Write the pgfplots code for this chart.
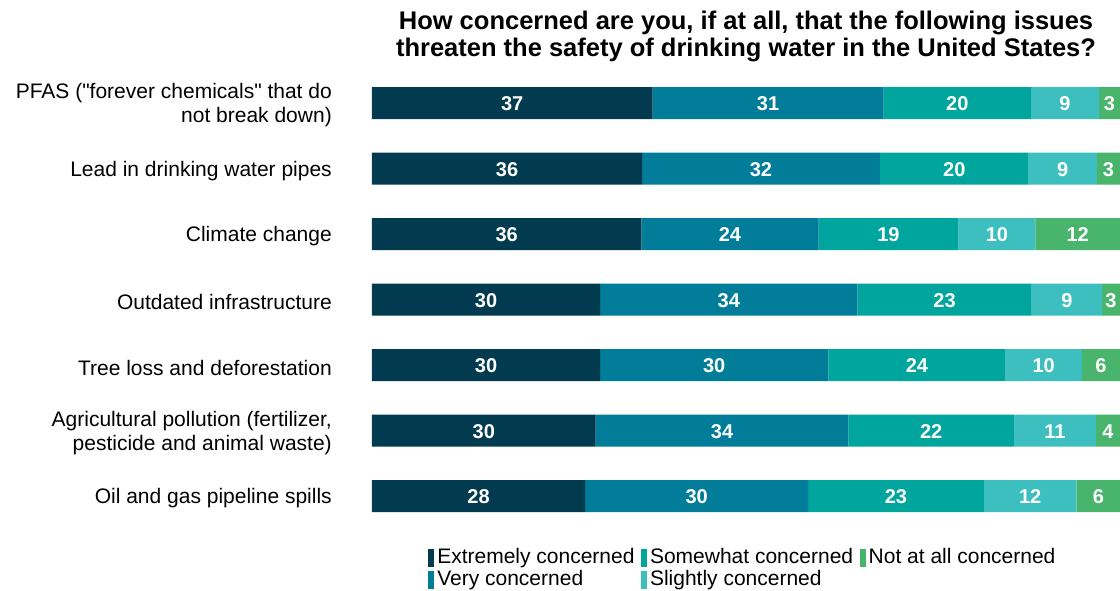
\documentclass[border=0pt]{standalone}
\usepackage{pgfplots}
\pgfplotsset{compat=1.18}
\usepackage{fontspec}
\setmainfont{Liberation Sans}
\newcommand\dq{\XeTeXglyph\XeTeXcharglyph"22\relax}
\definecolor{cExt}{HTML}{023B4F}
\definecolor{cVery}{HTML}{017C99}
\definecolor{cSome}{HTML}{00A59E}
\definecolor{cSli}{HTML}{3EBFBF}
\definecolor{cNot}{HTML}{48B46C}
\begin{document}
\begin{tikzpicture}[x=1pt,y=1pt]
\useasboundingbox (0,0) rectangle (1120,590);
\begin{axis}[
  at={(372pt,61.25pt)}, anchor=south west,
  width=748pt, height=458.5pt, scale only axis,
  xbar stacked, bar width=32pt,
  xmin=0, xmax=100, ymin=-0.5, ymax=6.5, y dir=reverse,
  axis lines=left, axis line style={draw=none},
  xtick=\empty, ytick={0,...,6}, major tick length=0pt,
  yticklabels={{PFAS (\dq forever chemicals\dq{} that do\\not break down)},
    {Lead in drinking water pipes},
    {Climate change},
    {Outdated infrastructure},
    {Tree loss and deforestation},
    {Agricultural pollution (fertilizer,\\pesticide and animal waste)},
    {Oil and gas pipeline spills}},
  yticklabel style={font=\fontsize{21}{24}\selectfont, align=right, inner sep=0pt, xshift=-40pt, yshift=-2.5pt},
  title={How concerned are you, if at all, that the following issues\\threaten the safety of drinking water in the United States?},
  title style={font=\bfseries\fontsize{25.5}{27}\selectfont, align=center, at={(0.5,1)}, anchor=south, inner sep=0pt, yshift=2pt},
  nodes near coords,
  point meta=explicit symbolic,
  nodes near coords style={font=\bfseries\fontsize{20}{20}\selectfont, text=white, anchor=center, yshift=-1pt},
  legend columns=3,
  legend image code/.code={\fill[#1] (0pt,-9pt) rectangle (6pt,9pt);},
  legend style={at={(0.075,-0.043)}, anchor=north west, draw=none, fill=none,
    font=\fontsize{21}{22}\selectfont, inner sep=0pt, row sep=3pt,
    nodes={inner xsep=3pt, inner ysep=0pt, text height=15pt, text depth=4pt},
    /tikz/every even column/.append style={column sep=3.5pt}},
  legend cell align=left,
]
\addlegendimage{fill=cExt, draw=none}\addlegendentry{Extremely concerned}
\addlegendimage{fill=cSome, draw=none}\addlegendentry{Somewhat concerned}
\addlegendimage{fill=cNot, draw=none}\addlegendentry{Not at all concerned}
\addlegendimage{fill=cVery, draw=none}\addlegendentry{Very concerned}
\addlegendimage{fill=cSli, draw=none}\addlegendentry{Slightly concerned}
\addplot[fill=cExt, draw=none] coordinates {(37.5,0)[37] (36.1,1)[36] (36.0,2)[36] (30.5,3)[30] (30.5,4)[30] (29.9,5)[30] (28.5,6)[28]};
\addplot[fill=cVery, draw=none] coordinates {(30.9,0)[31] (31.8,1)[32] (23.7,2)[24] (34.4,3)[34] (30.5,4)[30] (33.8,5)[34] (29.8,6)[30]};
\addplot[fill=cSome, draw=none] coordinates {(19.7,0)[20] (19.9,1)[20] (18.7,2)[19] (23.3,3)[23] (23.7,4)[24] (22.1,5)[22] (23.5,6)[23]};
\addplot[fill=cSli, draw=none] coordinates {(9.1,0)[9] (9.1,1)[9] (10.3,2)[10] (9.4,3)[9] (10.2,4)[10] (11.0,5)[11] (12.4,6)[12]};
\addplot[fill=cNot, draw=none] coordinates {(2.8,0)[3] (3.1,1)[3] (11.3,2)[12] (2.4,3)[3] (5.1,4)[6] (3.2,5)[4] (5.8,6)[6]};
\end{axis}
\end{tikzpicture}
\end{document}
